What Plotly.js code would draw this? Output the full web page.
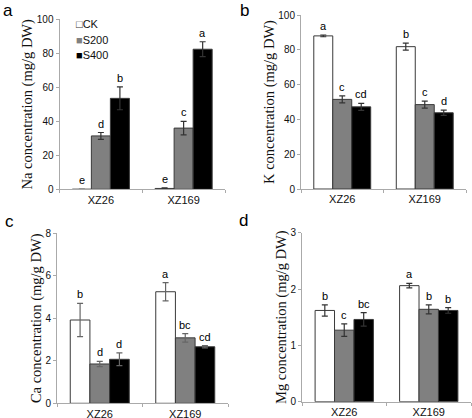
<!DOCTYPE html>
<html>
<head>
<meta charset="utf-8">
<script src="https://cdn.plot.ly/plotly-3.0.1.min.js"></script>
<style>html,body{margin:0;padding:0;background:#fff;}#chart{width:472px;height:418px;}</style>
</head>
<body>
<div id="chart"></div>
<script>
// ---- data ----
var categories = ['XZ26', 'XZ169'];
var seriesNames = ['CK', 'S200', 'S400'];

// Na (panel a)
var naCK = [0, 0.5],   naCKErr = [0, 0.3],   naCKLet = ['e', 'e'];
var naS200 = [31.4, 36], naS200Err = [2, 4], naS200Let = ['d', 'c'];
var naS400 = [53.5, 82.4], naS400Err = [6.7, 4.4], naS400Let = ['b', 'a'];

// K (panel b)
var kCK = [88, 81.8],   kCKErr = [0.5, 2],   kCKLet = ['a', 'b'];
var kS200 = [51.5, 48.5], kS200Err = [2, 2],  kS200Let = ['c', 'c'];
var kS400 = [47.2, 43.8], kS400Err = [2, 1.5], kS400Let = ['cd', 'd'];

// Ca (panel c)
var caCK = [3.92, 5.25],  caCKErr = [0.78, 0.43], caCKLet = ['b', 'a'];
var caS200 = [1.85, 3.08], caS200Err = [0.12, 0.2], caS200Let = ['d', 'bc'];
var caS400 = [2.07, 2.66], caS400Err = [0.3, 0.05], caS400Let = ['d', 'cd'];

// Mg (panel d)
var mgCK = [1.62, 2.06],  mgCKErr = [0.1, 0.04], mgCKLet = ['b', 'a'];
var mgS200 = [1.27, 1.64], mgS200Err = [0.11, 0.08], mgS200Let = ['c', 'b'];
var mgS400 = [1.46, 1.62], mgS400Err = [0.12, 0.05], mgS400Let = ['bc', 'b'];

var panelLetters = ['a', 'b', 'c', 'd'];
var yTitles = ['Na concentration (mg/g DW)', 'K concentration (mg/g DW)',
               'Ca concentration (mg/g DW)', 'Mg concentration (mg/g DW)'];

// ---- styling ----
var fills = ['#ffffff', '#808080', '#000000'];
var bargap = 0.31;
var axisColor = '#aaaaaa';
var textColor = '#111111';
var sansFont = 'Liberation Sans, Arial, sans-serif';
var serifFont = 'Liberation Serif, Times New Roman, serif';

var panels = [
  {vals: [naCK, naS200, naS400], errs: [naCKErr, naS200Err, naS400Err], lets: [naCKLet, naS200Let, naS400Let],
   range: [0, 100], dtick: 20, xd: [59.5, 225], yd: [189.3, 19.3], errColor: '#333333'},
  {vals: [kCK, kS200, kS400], errs: [kCKErr, kS200Err, kS400Err], lets: [kCKLet, kS200Let, kS400Let],
   range: [0, 100], dtick: 20, xd: [301, 466], yd: [189, 15], errColor: '#333333'},
  {vals: [caCK, caS200, caS400], errs: [caCKErr, caS200Err, caS400Err], lets: [caCKLet, caS200Let, caS400Let],
   range: [0, 8], dtick: 2, xd: [57, 228], yd: [403.3, 233.3], errColor: '#666666'},
  {vals: [mgCK, mgS200, mgS400], errs: [mgCKErr, mgS200Err, mgS400Err], lets: [mgCKLet, mgS200Let, mgS400Let],
   range: [0, 3], dtick: 1, xd: [302, 471], yd: [401.7, 232.7], errColor: '#333333'}
];

var W = 472, H = 418;
var traces = [];
var annotations = [];
var layout = {
  width: W, height: H,
  margin: {l: 0, r: 0, t: 0, b: 0},
  paper_bgcolor: '#ffffff', plot_bgcolor: '#ffffff',
  barmode: 'group', bargap: bargap, bargroupgap: 0,
  showlegend: false,
  font: {family: sansFont, color: textColor, size: 10}
};

var barW = (1 - bargap) / 3;
panels.forEach(function (p, k) {
  var sfx = k === 0 ? '' : String(k + 1);
  var xa = 'x' + sfx, ya = 'y' + sfx;
  for (var s = 0; s < 3; s++) {
    traces.push({
      type: 'bar', name: seriesNames[s], x: categories, y: p.vals[s],
      xaxis: xa, yaxis: ya,
      marker: {color: fills[s], line: {color: '#3a3a3a', width: 1}},
      error_y: {type: 'data', array: p.errs[s], visible: true, color: p.errColor, thickness: 1.2, width: 3},
      hoverinfo: 'none'
    });
    for (var i = 0; i < categories.length; i++) {
      annotations.push({
        xref: xa, yref: ya, x: i + (s - 1) * barW, y: p.vals[s][i] + p.errs[s][i],
        text: p.lets[s][i], showarrow: false, yanchor: 'bottom', yshift: 1,
        font: {family: sansFont, size: 11, color: '#000000'}
      });
    }
  }
  layout['xaxis' + sfx] = {
    domain: [p.xd[0] / W, p.xd[1] / W], anchor: ya,
    type: 'category', range: [-0.5, 1.5],
    showline: true, linecolor: axisColor, linewidth: 1,
    ticks: 'outside', tickson: 'boundaries', ticklen: 3, tickcolor: axisColor,
    showgrid: false, zeroline: false,
    tickfont: {family: sansFont, size: 11, color: textColor}
  };
  layout['yaxis' + sfx] = {
    domain: [(H - p.yd[0]) / H, (H - p.yd[1]) / H], anchor: xa,
    range: p.range, dtick: p.dtick,
    showline: true, linecolor: axisColor, linewidth: 1,
    ticks: 'outside', ticklen: 3, tickcolor: axisColor,
    showgrid: false, zeroline: false,
    tickfont: {family: sansFont, size: 10, color: textColor},
    title: {text: yTitles[k], font: {family: serifFont, size: 14.5, color: textColor}, standoff: 0}
  };
});

// panel letters
var letterPos = [[1, 11], [238, 11], [3, 221], [237, 220]];
panelLetters.forEach(function (t, k) {
  annotations.push({
    xref: 'paper', yref: 'paper', x: letterPos[k][0] / W, y: 1 - letterPos[k][1] / H,
    xanchor: 'left', yanchor: 'middle', text: t, showarrow: false,
    font: {family: sansFont, size: 17, color: '#000'}
  });
});

// legend (panel a)
var legendGlyph = ['□', '■', '■'];
var legendGlyphColor = ['#333333', '#808080', '#000000'];
seriesNames.forEach(function (n, s) {
  annotations.push({
    xref: 'paper', yref: 'paper', x: 74 / W, y: 1 - (24 + s * 15.7) / H,
    xanchor: 'left', yanchor: 'middle', showarrow: false,
    text: '<span style="color:' + legendGlyphColor[s] + '">' + legendGlyph[s] + '</span>' + n,
    font: {family: sansFont, size: 11, color: textColor}
  });
});

layout.annotations = annotations;
Plotly.newPlot('chart', traces, layout, {staticPlot: true, displayModeBar: false});
</script>
</body>
</html>
